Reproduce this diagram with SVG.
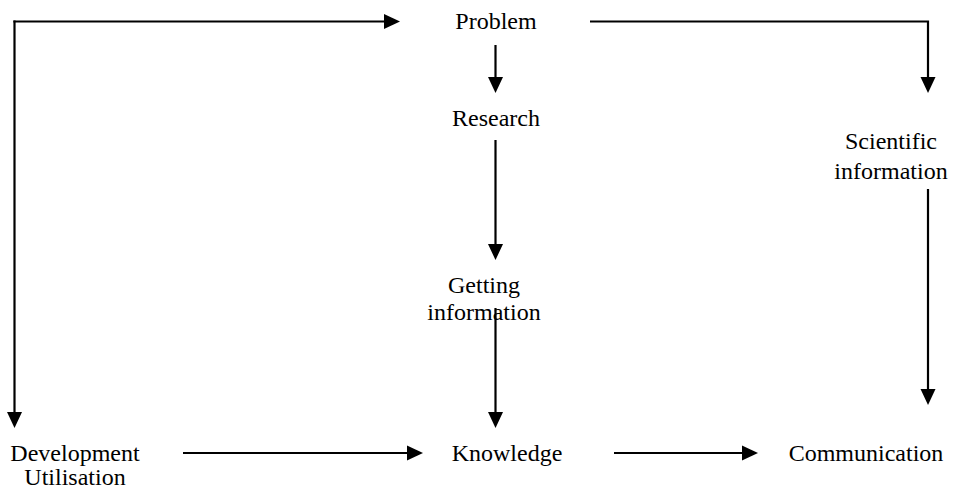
<svg xmlns="http://www.w3.org/2000/svg" width="955" height="491" viewBox="0 0 955 491">
<style>
  text { font-family: "Liberation Serif", "Times New Roman", serif; font-size: 24px; fill: #000; text-anchor: middle; }
  .c { fill: none; stroke: #000; stroke-width: 2.2; }
</style>
<defs>
  <marker id="ah" markerUnits="userSpaceOnUse" markerWidth="16" markerHeight="15" refX="0" refY="7.5" orient="auto" overflow="visible">
    <path d="M0,0 L16,7.5 L0,15 z" fill="#000"/>
  </marker>
</defs>
<rect width="955" height="491" fill="#fff"/>
<g id="connectors">
  <path class="c" d="M14.5,20.4 L14.5,412" marker-end="url(#ah)"/>
  <path class="c" d="M13.4,21.5 L384,21.5" marker-end="url(#ah)"/>
  <path class="c" d="M495.5,45 L495.5,77" marker-end="url(#ah)"/>
  <path class="c" d="M495.5,140 L495.5,244" marker-end="url(#ah)"/>
  <path class="c" d="M495.5,308 L495.5,412" marker-end="url(#ah)"/>
  <path class="c" d="M590,21.5 L928,21.5 L928,77" marker-end="url(#ah)"/>
  <path class="c" d="M928,189 L928,389" marker-end="url(#ah)"/>
  <path class="c" d="M183,453 L407,453" marker-end="url(#ah)"/>
  <path class="c" d="M614,453 L742,453" marker-end="url(#ah)"/>
</g>
<g id="problem"><text x="496" y="29">Problem</text></g>
<g id="research"><text x="496" y="126">Research</text></g>
<g id="scientific-information"><text x="891" y="149">Scientific</text><text x="891" y="179">information</text></g>
<g id="getting-information"><text x="484" y="293">Getting</text><text x="484" y="320">information</text></g>
<g id="development-utilisation"><text x="75" y="461">Development</text><text x="75" y="485">Utilisation</text></g>
<g id="knowledge"><text x="507" y="461">Knowledge</text></g>
<g id="communication"><text x="866" y="461">Communication</text></g>
</svg>
